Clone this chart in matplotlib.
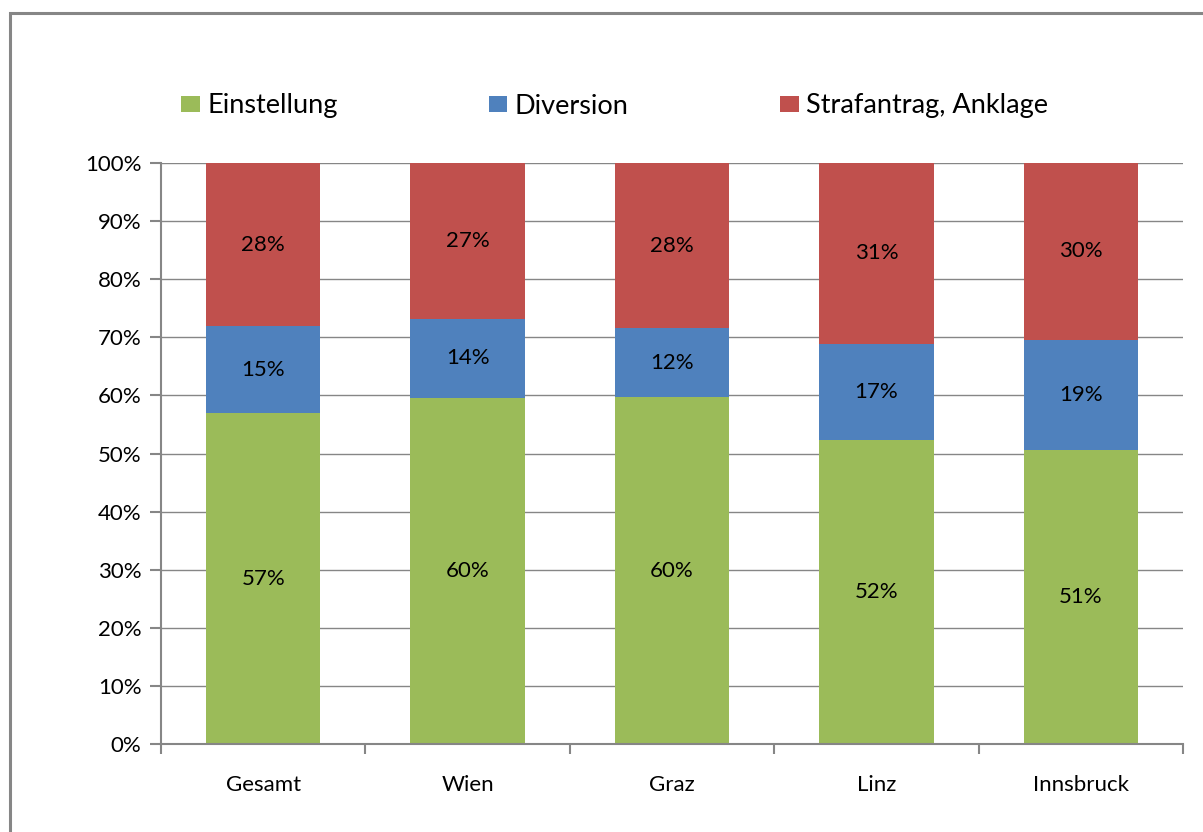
import matplotlib
matplotlib.use("Agg")
import matplotlib.pyplot as plt
from matplotlib.patches import Rectangle
from matplotlib.ticker import FuncFormatter, MultipleLocator
import numpy as np

categories = ["Gesamt", "Wien", "Graz", "Linz", "Innsbruck"]
einstellung = [56.9, 59.6, 59.7, 52.3, 50.6]
diversion = [15.0, 13.6, 11.9, 16.6, 19.0]
strafantrag = [28.1, 26.8, 28.4, 31.1, 30.4]
series_names = ["Einstellung", "Diversion", "Strafantrag, Anklage"]
colors = ["#9BBB59", "#4F81BD", "#C0504D"]

plt.rcParams['font.family'] = ['Lato', 'DejaVu Sans']

W, H = 1203, 832
fig = plt.figure(figsize=(W / 100, H / 100), dpi=100)

# outer frame (cropped at right/bottom)
fig.patches.append(Rectangle((10 / W, -0.05), 1.2, 1 - 13 / H + 0.05,
                             transform=fig.transFigure, fill=False,
                             edgecolor="#868686", linewidth=2.2, clip_on=False))

left, right, top, bottom = 161, 1183, 163, 744
ax = fig.add_axes([left / W, 1 - bottom / H, (right - left) / W, (bottom - top) / H])

x = np.arange(len(categories))
width = 0.56
data = [einstellung, diversion, strafantrag]
bottoms = np.zeros(len(categories))
for vals, name, col in zip(data, series_names, colors):
    vals = np.array(vals)
    ax.bar(x, vals, width, bottom=bottoms, color=col, label=name, zorder=2)
    for xi, b, v in zip(x, bottoms, vals):
        ax.text(xi, b + v / 2, f"{int(round(v))}%", ha="center", va="center",
                fontsize=16, color="black", zorder=3)
    bottoms += vals

ax.set_xlim(-0.5, len(categories) - 0.5)
ax.set_ylim(0, 100)
ax.yaxis.set_major_locator(MultipleLocator(10))
ax.yaxis.set_major_formatter(FuncFormatter(lambda v, p: f"{int(v)}%"))
ax.grid(axis="y", color="#868686", linewidth=1, zorder=0)
ax.set_axisbelow(True)
for s in ["top", "right"]:
    ax.spines[s].set_visible(False)
for s in ["left", "bottom"]:
    ax.spines[s].set_color("#868686")
    ax.spines[s].set_linewidth(1.5)
ax.set_xticks(x)
ax.set_xticklabels(categories, fontsize=16)
ax.tick_params(axis="x", length=0, pad=22)
ax.set_xticks(np.arange(-0.5, len(categories)), minor=True)
ax.tick_params(axis="x", which="minor", length=7, color="#868686", width=1.5)
ax.tick_params(axis="y", length=8, color="#868686", width=1.5, labelsize=16, pad=6)

handles, labels = ax.get_legend_handles_labels()
fig.legend(handles, labels, loc="center left", bbox_to_anchor=(157 / W, 1 - 106 / H),
           ncol=3, frameon=False, fontsize=19.5, handlelength=0.67, handleheight=0.55,
           handletextpad=0.28, columnspacing=5.6)

fig.savefig("out.png", dpi=100)
